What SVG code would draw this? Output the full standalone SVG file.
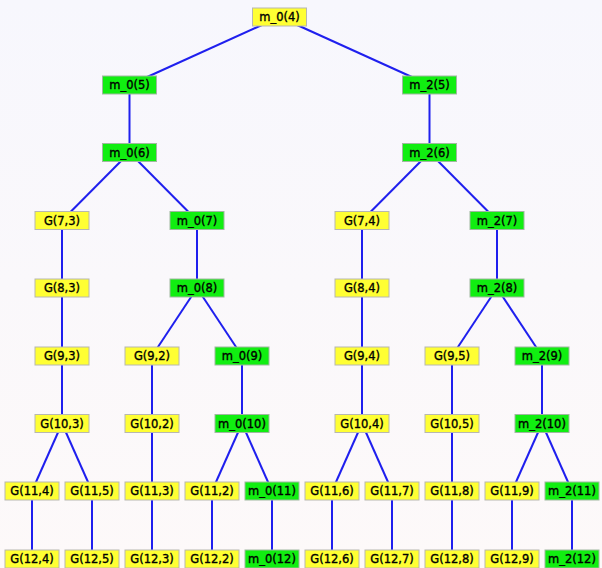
<svg xmlns="http://www.w3.org/2000/svg" width="602" height="568" viewBox="0 0 602 568">
<defs>
<linearGradient id="bg" x1="0" y1="0" x2="0" y2="1">
<stop offset="0" stop-color="#f7f7fd"/>
<stop offset="1" stop-color="#fdf9f9"/>
</linearGradient>
<style>
.e{stroke:#1f1fee;stroke-width:2;fill:none}
.y rect{fill:#ffff33;stroke:#b8b8b0;stroke-width:1}
.g rect{fill:#11ee11;stroke:#a0b8a0;stroke-width:1}
text{font-family:"DejaVu Sans",Verdana,sans-serif;font-size:11.5px;fill:#000;stroke:#000;stroke-width:0.35;text-anchor:middle;dominant-baseline:central}
</style>
</defs>
<rect width="602" height="568" fill="url(#bg)"/>
<g id="connectors">
<line class="e" x1="279.5" y1="17" x2="129.5" y2="85"/>
<line class="e" x1="279.5" y1="17" x2="429.5" y2="85"/>
<line class="e" x1="129.5" y1="85" x2="129.5" y2="152.5"/>
<line class="e" x1="429.5" y1="85" x2="429.5" y2="152.5"/>
<line class="e" x1="129.5" y1="152.5" x2="62" y2="220.5"/>
<line class="e" x1="129.5" y1="152.5" x2="197" y2="220.5"/>
<line class="e" x1="429.5" y1="152.5" x2="362" y2="220.5"/>
<line class="e" x1="429.5" y1="152.5" x2="497" y2="220.5"/>
<line class="e" x1="62" y1="220.5" x2="62" y2="423.5"/>
<line class="e" x1="362" y1="220.5" x2="362" y2="423.5"/>
<line class="e" x1="197" y1="220.5" x2="197" y2="288"/>
<line class="e" x1="497" y1="220.5" x2="497" y2="288"/>
<line class="e" x1="197" y1="288" x2="152" y2="356"/>
<line class="e" x1="197" y1="288" x2="242" y2="356"/>
<line class="e" x1="497" y1="288" x2="452" y2="356"/>
<line class="e" x1="497" y1="288" x2="542" y2="356"/>
<line class="e" x1="152" y1="356" x2="152" y2="559"/>
<line class="e" x1="452" y1="356" x2="452" y2="559"/>
<line class="e" x1="242" y1="356" x2="242" y2="423.5"/>
<line class="e" x1="542" y1="356" x2="542" y2="423.5"/>
<line class="e" x1="62" y1="423.5" x2="32" y2="491"/>
<line class="e" x1="62" y1="423.5" x2="92" y2="491"/>
<line class="e" x1="242" y1="423.5" x2="212" y2="491"/>
<line class="e" x1="242" y1="423.5" x2="272" y2="491"/>
<line class="e" x1="362" y1="423.5" x2="332" y2="491"/>
<line class="e" x1="362" y1="423.5" x2="392" y2="491"/>
<line class="e" x1="542" y1="423.5" x2="512" y2="491"/>
<line class="e" x1="542" y1="423.5" x2="572" y2="491"/>
<line class="e" x1="32" y1="491" x2="32" y2="559"/>
<line class="e" x1="92" y1="491" x2="92" y2="559"/>
<line class="e" x1="212" y1="491" x2="212" y2="559"/>
<line class="e" x1="272" y1="491" x2="272" y2="559"/>
<line class="e" x1="332" y1="491" x2="332" y2="559"/>
<line class="e" x1="392" y1="491" x2="392" y2="559"/>
<line class="e" x1="512" y1="491" x2="512" y2="559"/>
<line class="e" x1="572" y1="491" x2="572" y2="559"/>
</g>
<g id="n_m0_4" class="y"><rect x="252.5" y="8" width="54" height="18"/><text x="279.5" y="17">m_0(4)</text></g>
<g id="n_m0_5" class="g"><rect x="102.5" y="76" width="54" height="18"/><text x="129.5" y="85">m_0(5)</text></g>
<g id="n_m2_5" class="g"><rect x="402.5" y="76" width="54" height="18"/><text x="429.5" y="85">m_2(5)</text></g>
<g id="n_m0_6" class="g"><rect x="102.5" y="143.5" width="54" height="18"/><text x="129.5" y="152.5">m_0(6)</text></g>
<g id="n_m2_6" class="g"><rect x="402.5" y="143.5" width="54" height="18"/><text x="429.5" y="152.5">m_2(6)</text></g>
<g id="n_G7_3" class="y"><rect x="35" y="211.5" width="54" height="18"/><text x="62" y="220.5">G(7,3)</text></g>
<g id="n_m0_7" class="g"><rect x="170" y="211.5" width="54" height="18"/><text x="197" y="220.5">m_0(7)</text></g>
<g id="n_G7_4" class="y"><rect x="335" y="211.5" width="54" height="18"/><text x="362" y="220.5">G(7,4)</text></g>
<g id="n_m2_7" class="g"><rect x="470" y="211.5" width="54" height="18"/><text x="497" y="220.5">m_2(7)</text></g>
<g id="n_G8_3" class="y"><rect x="35" y="279" width="54" height="18"/><text x="62" y="288">G(8,3)</text></g>
<g id="n_m0_8" class="g"><rect x="170" y="279" width="54" height="18"/><text x="197" y="288">m_0(8)</text></g>
<g id="n_G8_4" class="y"><rect x="335" y="279" width="54" height="18"/><text x="362" y="288">G(8,4)</text></g>
<g id="n_m2_8" class="g"><rect x="470" y="279" width="54" height="18"/><text x="497" y="288">m_2(8)</text></g>
<g id="n_G9_3" class="y"><rect x="35" y="347" width="54" height="18"/><text x="62" y="356">G(9,3)</text></g>
<g id="n_G9_2" class="y"><rect x="125" y="347" width="54" height="18"/><text x="152" y="356">G(9,2)</text></g>
<g id="n_m0_9" class="g"><rect x="215" y="347" width="54" height="18"/><text x="242" y="356">m_0(9)</text></g>
<g id="n_G9_4" class="y"><rect x="335" y="347" width="54" height="18"/><text x="362" y="356">G(9,4)</text></g>
<g id="n_G9_5" class="y"><rect x="425" y="347" width="54" height="18"/><text x="452" y="356">G(9,5)</text></g>
<g id="n_m2_9" class="g"><rect x="515" y="347" width="54" height="18"/><text x="542" y="356">m_2(9)</text></g>
<g id="n_G10_3" class="y"><rect x="35" y="414.5" width="54" height="18"/><text x="62" y="423.5">G(10,3)</text></g>
<g id="n_G10_2" class="y"><rect x="125" y="414.5" width="54" height="18"/><text x="152" y="423.5">G(10,2)</text></g>
<g id="n_m0_10" class="g"><rect x="215" y="414.5" width="54" height="18"/><text x="242" y="423.5">m_0(10)</text></g>
<g id="n_G10_4" class="y"><rect x="335" y="414.5" width="54" height="18"/><text x="362" y="423.5">G(10,4)</text></g>
<g id="n_G10_5" class="y"><rect x="425" y="414.5" width="54" height="18"/><text x="452" y="423.5">G(10,5)</text></g>
<g id="n_m2_10" class="g"><rect x="515" y="414.5" width="54" height="18"/><text x="542" y="423.5">m_2(10)</text></g>
<g id="n_G11_4" class="y"><rect x="5" y="482" width="54" height="18"/><text x="32" y="491">G(11,4)</text></g>
<g id="n_G11_5" class="y"><rect x="65" y="482" width="54" height="18"/><text x="92" y="491">G(11,5)</text></g>
<g id="n_G11_3" class="y"><rect x="125" y="482" width="54" height="18"/><text x="152" y="491">G(11,3)</text></g>
<g id="n_G11_2" class="y"><rect x="185" y="482" width="54" height="18"/><text x="212" y="491">G(11,2)</text></g>
<g id="n_m0_11" class="g"><rect x="245" y="482" width="54" height="18"/><text x="272" y="491">m_0(11)</text></g>
<g id="n_G11_6" class="y"><rect x="305" y="482" width="54" height="18"/><text x="332" y="491">G(11,6)</text></g>
<g id="n_G11_7" class="y"><rect x="365" y="482" width="54" height="18"/><text x="392" y="491">G(11,7)</text></g>
<g id="n_G11_8" class="y"><rect x="425" y="482" width="54" height="18"/><text x="452" y="491">G(11,8)</text></g>
<g id="n_G11_9" class="y"><rect x="485" y="482" width="54" height="18"/><text x="512" y="491">G(11,9)</text></g>
<g id="n_m2_11" class="g"><rect x="545" y="482" width="54" height="18"/><text x="572" y="491">m_2(11)</text></g>
<g id="n_G12_4" class="y"><rect x="5" y="550" width="54" height="18"/><text x="32" y="559">G(12,4)</text></g>
<g id="n_G12_5" class="y"><rect x="65" y="550" width="54" height="18"/><text x="92" y="559">G(12,5)</text></g>
<g id="n_G12_3" class="y"><rect x="125" y="550" width="54" height="18"/><text x="152" y="559">G(12,3)</text></g>
<g id="n_G12_2" class="y"><rect x="185" y="550" width="54" height="18"/><text x="212" y="559">G(12,2)</text></g>
<g id="n_m0_12" class="g"><rect x="245" y="550" width="54" height="18"/><text x="272" y="559">m_0(12)</text></g>
<g id="n_G12_6" class="y"><rect x="305" y="550" width="54" height="18"/><text x="332" y="559">G(12,6)</text></g>
<g id="n_G12_7" class="y"><rect x="365" y="550" width="54" height="18"/><text x="392" y="559">G(12,7)</text></g>
<g id="n_G12_8" class="y"><rect x="425" y="550" width="54" height="18"/><text x="452" y="559">G(12,8)</text></g>
<g id="n_G12_9" class="y"><rect x="485" y="550" width="54" height="18"/><text x="512" y="559">G(12,9)</text></g>
<g id="n_m2_12" class="g"><rect x="545" y="550" width="54" height="18"/><text x="572" y="559">m_2(12)</text></g>
</svg>
